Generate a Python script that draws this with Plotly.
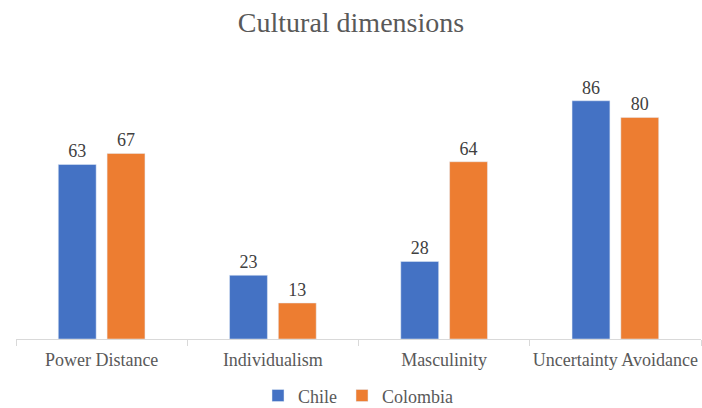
import plotly.graph_objects as go

categories = ["Power Distance", "Individualism", "Masculinity", "Uncertainty Avoidance"]
chile = [63, 23, 28, 86]
colombia = [67, 13, 64, 80]

font_family = "Liberation Serif"

fig = go.Figure()
fig.add_trace(go.Bar(name="Chile", x=categories, y=chile, marker_color="#4472C4",
                     text=chile, textposition="outside", cliponaxis=False,
                     textfont=dict(family=font_family, size=18, color="#404040")))
fig.add_trace(go.Bar(name="Colombia", x=categories, y=colombia, marker_color="#ED7D31",
                     text=colombia, textposition="outside", cliponaxis=False,
                     textfont=dict(family=font_family, size=18, color="#404040")))

fig.update_layout(
    width=702, height=408,
    margin=dict(l=16, r=1, t=62, b=69, autoexpand=False),
    paper_bgcolor="white", plot_bgcolor="white",
    barmode="group", bargap=0.43, bargroupgap=0.224,
    title=dict(text="Cultural dimensions", x=0.5, xanchor="center", y=0.945, yanchor="middle",
               font=dict(family=font_family, size=28, color="#595959")),
    font=dict(family=font_family, color="#595959"),
    showlegend=True,
    legend=dict(orientation="h", x=0.5, xanchor="center", y=-0.205, yanchor="middle",
                font=dict(family=font_family, size=18, color="#595959"),
                itemwidth=30, traceorder="normal"),
)
fig.update_xaxes(showline=True, linecolor="#D9D9D9", linewidth=1,
                 ticks="outside", tickson="boundaries", ticklen=6, tickcolor="#D9D9D9",
                 ticklabelstandoff=4, tickangle=0, automargin=False,
                 tickfont=dict(family=font_family, size=18, color="#595959"),
                 showgrid=False)
fig.update_yaxes(range=[0, 100], visible=False, showgrid=False)

fig.write_html("out.html")
